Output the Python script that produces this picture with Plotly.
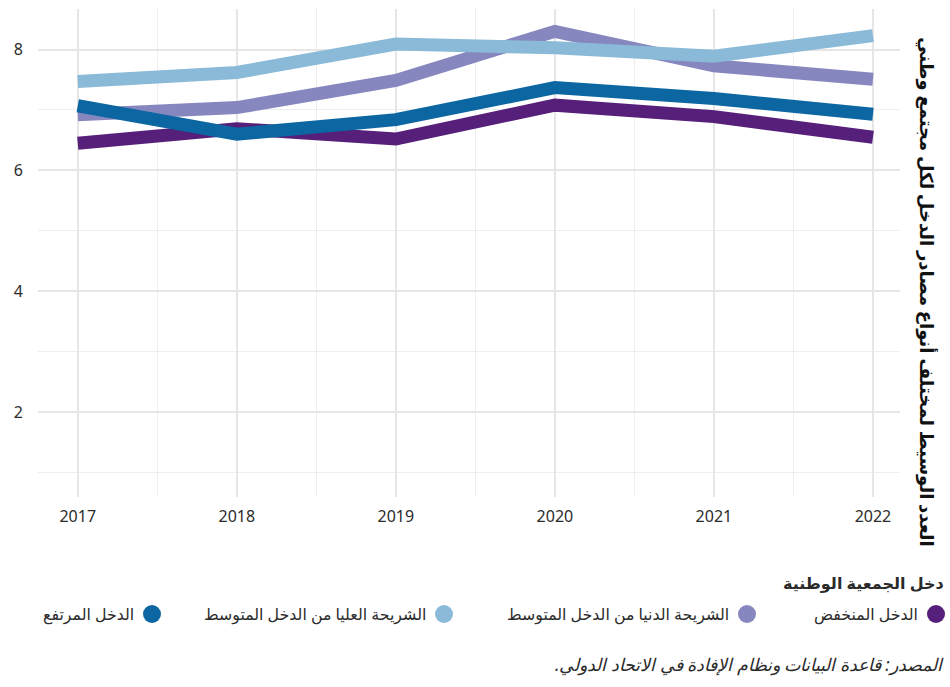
import plotly.graph_objects as go

# Survey years
years = [2017, 2018, 2019, 2020, 2021, 2022]

# Median number of income source types per National Society, by income group
low_income = [6.45, 6.69, 6.52, 7.08, 6.89, 6.55]
lower_middle_income = [6.92, 7.04, 7.49, 8.30, 7.73, 7.51]
upper_middle_income = [7.47, 7.62, 8.09, 8.03, 7.89, 8.23]
high_income = [7.07, 6.60, 6.84, 7.37, 7.19, 6.93]

group_names = [
    "الدخل المنخفض",
    "الشريحة الدنيا من الدخل المتوسط",
    "الشريحة العليا من الدخل المتوسط",
    "الدخل المرتفع",
]
group_values = [low_income, lower_middle_income, upper_middle_income, high_income]
group_colors = ["#551f7a", "#8787c0", "#8abad7", "#0b66a1"]

y_title = "العدد الوسيط لمختلف أنواع مصادر الدخل لكل مجتمع وطني"
legend_title = "دخل الجمعية الوطنية"
# trailing RLM keeps the full stop at the left end of the right-to-left sentence
caption = "المصدر: قاعدة البيانات ونظام الإفادة في الاتحاد الدولي.\u200f"

FONT = "Noto Sans, DejaVu Sans, sans-serif"
TEXT = "#2b2b2b"

fig = go.Figure()
for name, vals, col in zip(group_names, group_values, group_colors):
    fig.add_trace(go.Scatter(
        x=years, y=vals, mode="lines", name=name,
        line=dict(color=col, width=13), showlegend=False,
        hoverinfo="x+y+name",
    ))

W, H = 950, 687
ml, mr, mt, mb = 38, 50, 9, 190

fig.update_layout(
    width=W, height=H,
    margin=dict(l=ml, r=mr, t=mt, b=mb),
    paper_bgcolor="white", plot_bgcolor="white",
    font=dict(family=FONT, color=TEXT, size=15),
    xaxis=dict(
        range=[2016.75, 2022.17], dtick=1, tick0=2017,
        showgrid=True, gridcolor="#e6e6e6", gridwidth=2,
        minor=dict(dtick=0.5, tick0=2016.5, showgrid=True, gridcolor="#eeeeee", gridwidth=1),
        zeroline=False, showline=False, ticks="",
        tickfont=dict(size=16, color=TEXT), ticklabelstandoff=8,
    ),
    yaxis=dict(
        range=[0.6, 8.67], dtick=2, tick0=0,
        showgrid=True, gridcolor="#e6e6e6", gridwidth=2,
        minor=dict(dtick=1, tick0=0, showgrid=True, gridcolor="#eeeeee", gridwidth=1),
        zeroline=False, showline=False, ticks="",
        tickfont=dict(size=16, color=TEXT), ticklabelstandoff=14,
    ),
)

# Rotated axis title on the right-hand side
fig.add_annotation(
    text="<b>" + y_title + "</b>", textangle=90,
    xref="paper", yref="paper",
    x=(927 - ml) / (W - ml - mr), y=1 - (292 - mt) / (H - mt - mb),
    showarrow=False, font=dict(size=18, color="#111111"),
    xanchor="center", yanchor="middle",
)

# Right-to-left legend built from the group lists
legend_y_px = 614
circle_x_px = [936, 747, 444, 152]
r = 9
for name, col, cx in zip(group_names, group_colors, circle_x_px):
    fig.add_shape(
        type="circle", xref="paper", yref="paper",
        x0=(cx - r - ml) / (W - ml - mr), x1=(cx + r - ml) / (W - ml - mr),
        y0=1 - (legend_y_px + r - mt) / (H - mt - mb), y1=1 - (legend_y_px - r - mt) / (H - mt - mb),
        fillcolor=col, line=dict(width=0),
    )
    fig.add_annotation(
        text=name, xref="paper", yref="paper",
        x=(cx - 16 - ml) / (W - ml - mr), y=1 - (legend_y_px - mt) / (H - mt - mb),
        xanchor="right", yanchor="middle", showarrow=False,
        font=dict(size=15.8, color=TEXT),
    )

fig.add_annotation(
    text="<b>" + legend_title + "</b>", xref="paper", yref="paper",
    x=(946 - ml) / (W - ml - mr), y=1 - (583 - mt) / (H - mt - mb),
    xanchor="right", yanchor="middle", showarrow=False,
    font=dict(size=16, color=TEXT),
)

fig.add_annotation(
    text="<i>" + caption + "</i>", xref="paper", yref="paper",
    x=(946 - ml) / (W - ml - mr), y=1 - (664 - mt) / (H - mt - mb),
    xanchor="right", yanchor="middle", showarrow=False,
    font=dict(size=17.5, color=TEXT),
)

fig.write_html("out.html")
